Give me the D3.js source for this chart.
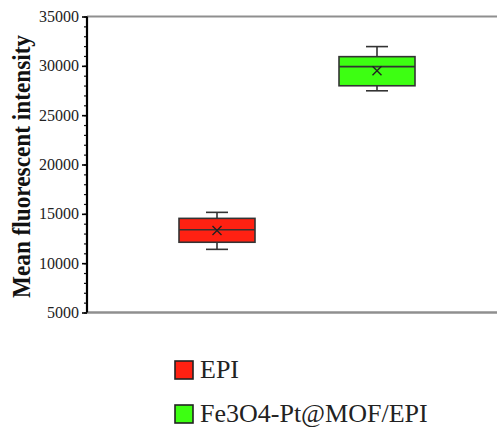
<!DOCTYPE html>
<html>
<head>
<meta charset="utf-8">
<script src="https://cdn.jsdelivr.net/npm/d3@7"></script>
<style>
  html, body { margin: 0; padding: 0; background: #fff; }
  svg { display: block; }
  svg text { font-family: "Liberation Serif", "Times New Roman", Times, serif; }
</style>
</head>
<body>
<svg id="chart" width="497" height="429"></svg>
<script>
const categories = ["EPI", "Fe3O4-Pt@MOF/EPI"];
const whiskerLow  = [11400, 27470];
const q1          = [12120, 27980];
const median      = [13380, 29920];
const q3          = [14540, 30930];
const whiskerHigh = [15150, 31950];
const meanValues  = [13300, 29510];
const colors      = ["#ff2112", "#3dff12"];
const yTicks      = [5000, 10000, 15000, 20000, 25000, 30000, 35000];
const yLabel      = "Mean fluorescent intensity";

(function () {
const svg = d3.select("#chart");
const mLeft = 87, mRight = 507, mTop = 16.5, mBottom = 312.5;
const serif = '"Liberation Serif", "Times New Roman", Times, serif';

const y = d3.scaleLinear().domain([5000, 35000]).range([mBottom, mTop]);
const x = d3.scalePoint().domain(categories).range([mLeft, mRight]).padding(0.8125);
const boxW = 76, capW = 22;

svg.append("line").attr("x1", mLeft).attr("x2", 497).attr("y1", mTop).attr("y2", mTop)
  .attr("stroke", "#8f8f8f").attr("stroke-width", 2);
svg.append("line").attr("x1", mLeft).attr("x2", 497).attr("y1", mBottom).attr("y2", mBottom)
  .attr("stroke", "#8f8f8f").attr("stroke-width", 2.5);

const minorAxis = d3.axisLeft(y).tickValues(d3.range(5000, 35001, 1000)).tickSize(3).tickFormat("");
svg.append("g").attr("transform", `translate(${mLeft},0)`).call(minorAxis)
  .call(g => g.select(".domain").remove())
  .selectAll("line").attr("stroke", "#111").attr("stroke-width", 1.2);

const yAxis = d3.axisLeft(y).tickValues(yTicks).tickSize(5).tickPadding(3).tickFormat(d3.format("d"));
const gy = svg.append("g").attr("transform", `translate(${mLeft},0)`).call(yAxis);
gy.attr("font-family", null);
gy.select(".domain").attr("stroke", "#000").attr("stroke-width", 2.2).attr("d", `M0,${mTop}V${mBottom}`);
gy.selectAll(".tick line").attr("stroke", "#000").attr("stroke-width", 1.6);
gy.selectAll(".tick text").style("font-family", serif)
  .style("font-size", "16px").attr("fill", "#222");

svg.append("text")
  .attr("transform", `translate(30, ${(35 + 298) / 2}) rotate(-90)`)
  .attr("text-anchor", "middle")
  .style("font-family", serif)
  .style("font-weight", "bold").style("font-size", "26px")
  .attr("textLength", 263).attr("lengthAdjust", "spacingAndGlyphs")
  .attr("fill", "#111")
  .text(yLabel);

const data = categories.map((c, i) => ({
  c, lo: whiskerLow[i], q1: q1[i], med: median[i], q3: q3[i], hi: whiskerHigh[i], mean: meanValues[i], color: colors[i]
}));
const g = svg.append("g").selectAll("g").data(data).join("g");
const stroke = "#333", sw = 1.6;
g.append("line").attr("x1", d => x(d.c)).attr("x2", d => x(d.c))
  .attr("y1", d => y(d.hi)).attr("y2", d => y(d.q3)).attr("stroke", stroke).attr("stroke-width", sw);
g.append("line").attr("x1", d => x(d.c)).attr("x2", d => x(d.c))
  .attr("y1", d => y(d.q1)).attr("y2", d => y(d.lo)).attr("stroke", stroke).attr("stroke-width", sw);
g.append("line").attr("x1", d => x(d.c) - capW / 2).attr("x2", d => x(d.c) + capW / 2)
  .attr("y1", d => y(d.hi)).attr("y2", d => y(d.hi)).attr("stroke", stroke).attr("stroke-width", sw);
g.append("line").attr("x1", d => x(d.c) - capW / 2).attr("x2", d => x(d.c) + capW / 2)
  .attr("y1", d => y(d.lo)).attr("y2", d => y(d.lo)).attr("stroke", stroke).attr("stroke-width", sw);
g.append("rect").attr("x", d => x(d.c) - boxW / 2).attr("width", boxW)
  .attr("y", d => y(d.q3)).attr("height", d => y(d.q1) - y(d.q3))
  .attr("fill", d => d.color).attr("stroke", stroke).attr("stroke-width", sw);
g.append("line").attr("x1", d => x(d.c) - boxW / 2).attr("x2", d => x(d.c) + boxW / 2)
  .attr("y1", d => y(d.med)).attr("y2", d => y(d.med)).attr("stroke", stroke).attr("stroke-width", sw);
const s = 4.5;
g.append("path").attr("d", d => {
  const cx = x(d.c), cy = y(d.mean);
  return `M${cx - s},${cy - s}L${cx + s},${cy + s}M${cx - s},${cy + s}L${cx + s},${cy - s}`;
}).attr("stroke", "#222").attr("stroke-width", 1.4).attr("fill", "none");

const leg = svg.append("g").selectAll("g").data(data).join("g")
  .attr("transform", (d, i) => `translate(175, ${361 + i * 44})`);
leg.append("rect").attr("width", 18).attr("height", 18)
  .attr("fill", d => d.color).attr("stroke", "#222").attr("stroke-width", 1.6);
leg.append("text").attr("x", 25).attr("y", 17)
  .style("font-family", serif)
  .style("font-size", "26px").attr("fill", "#222")
  .text(d => d.c);
})();
</script>
</body>
</html>
